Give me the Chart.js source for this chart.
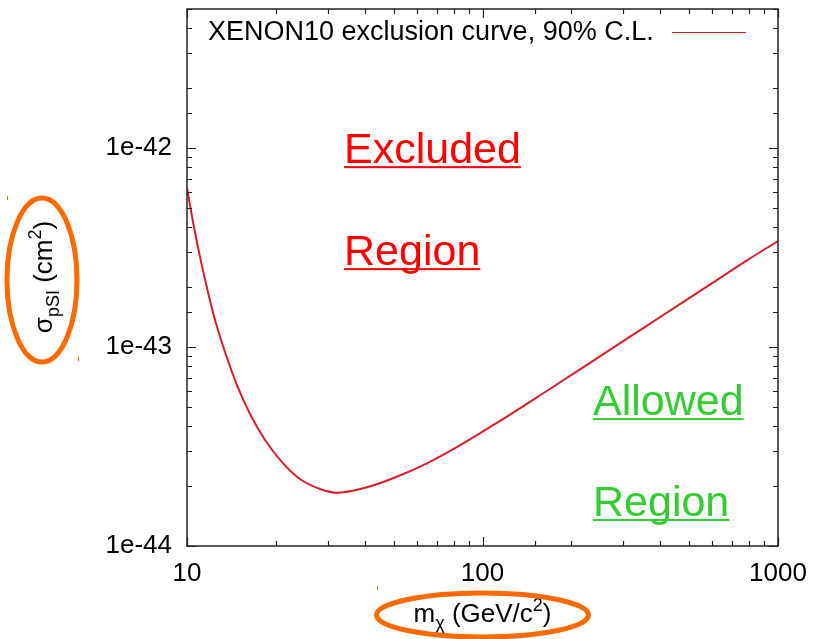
<!DOCTYPE html>
<html>
<head>
<meta charset="utf-8">
<script src="https://cdn.jsdelivr.net/npm/chart.js@4/dist/chart.umd.min.js"></script>
<style>
  body{margin:0;background:#fff;}
  #wrap{width:814px;height:639px;position:relative;}
</style>
</head>
<body>
<div id="wrap"><canvas id="myChart"></canvas></div>
<script>
// WIMP mass (GeV/c^2) and spin independent cross section limit (cm^2)
var massGeV = [10, 10.48, 11.07, 11.69, 12.44, 13.45, 14.76, 16.34, 18.37, 20.97, 24.12, 28.19, 32.2,
               39.5, 51.3, 66.4, 86.1, 114.6, 164.9, 213.8, 277, 359.5, 466, 604, 783, 1000];
var sigmaCm2 = [6.30e-43, 4.25e-43, 2.83e-43, 1.98e-43, 1.367e-43, 9.44e-44, 6.44e-44, 4.61e-44, 3.41e-44, 2.64e-44, 2.17e-44, 1.934e-44, 1.85e-44,
                1.95e-44, 2.23e-44, 2.65e-44, 3.28e-44, 4.25e-44, 6.01e-44, 7.72e-44, 9.93e-44, 1.278e-43, 1.644e-43, 2.114e-43, 2.72e-43, 3.41e-43];

var xRange = [10, 1000];
var yRange = [1e-44, 5e-42];
var xTickLabels = ["10", "100", "1000"];
var yTickLabels = ["1e-44", "1e-43", "1e-42"];
var curveLabel = "XENON10 exclusion curve, 90% C.L.";

// region labels, placed at (mass, sigma) of their baseline start
var regionText = ["Excluded", "Region", "Allowed", "Region"];
var regionMass = [34, 34, 236.6, 236.6];
var regionSigma = [8.4e-43, 2.58e-43, 4.55e-44, 1.415e-44];
var regionColor = ["#ff0000", "#ff0000", "#33cc33", "#33cc33"];

var FONT = '"Liberation Sans", Arial, sans-serif';
var ORANGE = "#ff6a00";

function isDecade(v){
  var l = Math.log10(v);
  return Math.abs(l - Math.round(l)) < 1e-6;
}

var gnuplotFrame = {
  id: "gnuplotFrame",
  afterDraw: function(chart){
    var ctx = chart.ctx;
    var a = chart.chartArea;
    var xs = chart.scales.x, ys = chart.scales.y;
    ctx.save();

    // border
    ctx.strokeStyle = "#222";
    ctx.lineWidth = 1.5;
    ctx.strokeRect(a.left, a.top, a.right - a.left, a.bottom - a.top);

    // inward ticks on all four sides
    ctx.lineWidth = 1.2;
    ctx.beginPath();
    xs.ticks.forEach(function(t){
      var px = Math.round(xs.getPixelForValue(t.value)) + 0.5;
      var len = isDecade(t.value) ? 9 : 5;
      ctx.moveTo(px, a.bottom); ctx.lineTo(px, a.bottom - len);
      ctx.moveTo(px, a.top); ctx.lineTo(px, a.top + len);
    });
    ys.ticks.forEach(function(t){
      var py = Math.round(ys.getPixelForValue(t.value)) + 0.5;
      var len = isDecade(t.value) ? 9 : 5;
      ctx.moveTo(a.left, py); ctx.lineTo(a.left + len, py);
      ctx.moveTo(a.right, py); ctx.lineTo(a.right - len, py);
    });
    ctx.stroke();

    // key: text then line sample
    ctx.fillStyle = "#000";
    ctx.font = "27px " + FONT;
    ctx.textBaseline = "middle";
    ctx.textAlign = "left";
    ctx.fillText(curveLabel, a.left + 21, a.top + 24);
    ctx.strokeStyle = "#d81e28";
    ctx.lineWidth = 1;
    ctx.beginPath();
    ctx.moveTo(a.left + 485, a.top + 23.5);
    ctx.lineTo(a.left + 559, a.top + 23.5);
    ctx.stroke();

    // underlined region labels
    ctx.font = "43px " + FONT;
    ctx.textBaseline = "alphabetic";
    for (var i = 0; i < regionText.length; i++){
      var x = xs.getPixelForValue(regionMass[i]);
      var y = ys.getPixelForValue(regionSigma[i]);
      var w = ctx.measureText(regionText[i]).width;
      ctx.fillStyle = regionColor[i];
      ctx.fillText(regionText[i], x, y);
      ctx.fillRect(x, y + 3, w, 2);
    }

    // axis titles with sub/superscripts
    ctx.fillStyle = "#000";
    ctx.textBaseline = "alphabetic";
    function drawParts(parts, x0, y0){
      var x = x0;
      parts.forEach(function(p){
        ctx.font = p[1] + "px " + FONT;
        ctx.fillText(p[0], x, y0 + p[2]);
        x += ctx.measureText(p[0]).width;
      });
      return x - x0;
    }
    function partsWidth(parts){
      var w = 0;
      parts.forEach(function(p){ ctx.font = p[1] + "px " + FONT; w += ctx.measureText(p[0]).width; });
      return w;
    }
    var xTitle = [["m", 26, 0], ["\u03c7", 18, 7], [" (GeV/c", 26, 0], ["2", 18, -11], [")", 26, 0]];
    var yTitle = [["\u03c3", 26, 0], ["pSI", 18, 7], [" (cm", 26, 0], ["2", 18, -11], [")", 26, 0]];

    var xc = (a.left + a.right) / 2;
    var wx = partsWidth(xTitle);
    drawParts(xTitle, xc - wx / 2, 622);

    ctx.save();
    ctx.translate(52, 277);
    ctx.rotate(-Math.PI / 2);
    var wy = partsWidth(yTitle);
    drawParts(yTitle, -wy / 2, 0);
    ctx.restore();

    // orange rings round the titles
    ctx.strokeStyle = ORANGE;
    ctx.lineWidth = 5;
    ctx.beginPath();
    ctx.ellipse(42, 280, 35, 82, 0, 0, Math.PI * 2);
    ctx.stroke();
    ctx.beginPath();
    ctx.ellipse(xc, 615, 106, 22, 0, 0, Math.PI * 2);
    ctx.stroke();
    ctx.lineWidth = 1;
    ctx.beginPath();
    ctx.moveTo(7.5, 196); ctx.lineTo(7.5, 200);
    ctx.moveTo(78.5, 357); ctx.lineTo(78.5, 361);
    ctx.moveTo(377.5, 586); ctx.lineTo(377.5, 590);
    ctx.stroke();

    ctx.restore();
  }
};

var ctx = document.getElementById("myChart");
var myChart = new Chart(ctx, {
  type: "line",
  data: {
    datasets: [{
      label: curveLabel,
      data: massGeV.map(function(m, i){ return {x: m, y: sigmaCm2[i]}; }),
      borderColor: "#d81e28",
      borderWidth: 2,
      pointRadius: 0,
      cubicInterpolationMode: "monotone",
      fill: false
    }]
  },
  options: {
    responsive: true,
    maintainAspectRatio: false,
    animation: false,
    layout: { padding: { left: 0, right: 36, top: 9, bottom: 0 } },
    plugins: {
      legend: { display: false },
      tooltip: { enabled: false }
    },
    scales: {
      x: {
        type: "logarithmic",
        min: xRange[0],
        max: xRange[1],
        border: { display: false },
        grid: { display: false, drawTicks: false },
        afterFit: function(s){
          s.height = 93;
          s.paddingLeft = 0; s.paddingRight = 0;
        },
        ticks: {
          autoSkip: false,
          maxRotation: 0,
          padding: 12,
          color: "#000",
          font: { family: FONT, size: 26 },
          callback: function(v){
            var l = Math.round(Math.log10(v));
            return isDecade(v) && xTickLabels[l - 1] ? xTickLabels[l - 1] : "";
          }
        }
      },
      y: {
        type: "logarithmic",
        min: yRange[0],
        max: yRange[1],
        border: { display: false },
        grid: { display: false, drawTicks: false },
        afterFit: function(s){
          s.width = 187;
          s.paddingTop = 0; s.paddingBottom = 0;
        },
        ticks: {
          autoSkip: false,
          padding: 15,
          color: "#000",
          font: { family: FONT, size: 26 },
          callback: function(v){
            var l = Math.round(Math.log10(v));
            return isDecade(v) && yTickLabels[l + 44] ? yTickLabels[l + 44] : "";
          }
        }
      }
    }
  },
  plugins: [gnuplotFrame]
});
</script>
</body>
</html>
